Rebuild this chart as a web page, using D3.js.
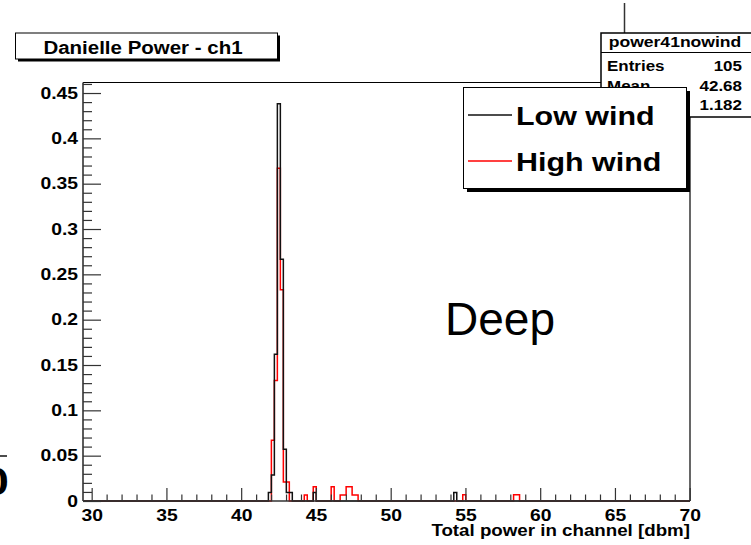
<!DOCTYPE html>
<html>
<head>
<meta charset="utf-8">
<script src="https://d3js.org/d3.v7.min.js"></script>
<style>
body { margin: 0; background: #fff; }
text { font-family: "Liberation Sans", Arial, Helvetica, sans-serif; font-weight: bold; fill: #000; }
</style>
</head>
<body>
<div id="chart"></div>
<script>
// histogram binning (ROOT TH1, 0.2 dbm bins)
var binStart = 29.42
var binWidth = 0.2
var binCount = 203

// non-empty bins: lower edge and normalised height
var lowWindBins = [41.82, 42.02, 42.22, 42.42, 42.62, 42.82, 43.02, 43.22, 44.82, 54.22]
var lowWindValues = [0.0095, 0.0286, 0.1619, 0.4381, 0.2667, 0.0571, 0.0095, 0.0095, 0.0095, 0.0095]

var highWindBins = [42.02, 42.22, 42.42, 42.62, 42.82, 43.02, 44.22, 44.82, 46.02, 46.62, 46.82, 47.02, 47.22, 47.42, 47.62, 54.82, 58.22, 58.42]
var highWindValues = [0.067, 0.133, 0.367, 0.233, 0.021, 0.021, 0.0066, 0.0158, 0.0158, 0.0066, 0.0066, 0.0158, 0.0158, 0.0066, 0.0066, 0.007, 0.007, 0.007]

var xMajorTicks = [30, 35, 40, 45, 50, 55, 60, 65, 70]
var yMajorTicks = [0, 0.05, 0.1, 0.15, 0.2, 0.25, 0.3, 0.35, 0.4, 0.45]
var legendLabels = ["Low wind", "High wind"]
var legendColors = ["#111", "#ff0000"]
var statsLabels = ["Entries", "Mean", "RMS"]
var statsValues = ["105", "42.68", "1.182"]

var width = 751
var height = 545
var plotLeft = 83, plotRight = 690, plotTop = 82.5, plotBottom = 501
var stretch = 1.17   // the original picture is stretched sideways

var svg = d3.select("#chart").append("svg")
    .attr("width", width)
    .attr("height", height)
    .style("display", "block")

var x = d3.scaleLinear()
    .domain([binStart, binStart + binCount * binWidth])
    .range([plotLeft, plotRight])
var y = d3.scaleLinear()
    .domain([0, 0.4616])
    .range([plotBottom, plotTop])

function fullHist(edges, values) {
    var counts = d3.range(binCount).map(function () { return 0 })
    edges.forEach(function (e, i) {
        counts[Math.round((e - binStart) / binWidth)] = values[i]
    })
    var pts = counts.map(function (v, k) { return [binStart + k * binWidth, v] })
    pts.push([binStart + binCount * binWidth, counts[binCount - 1]])
    return pts
}

var stepLine = d3.line()
    .x(function (d) { return x(d[0]) })
    .y(function (d) { return y(d[1]) })
    .curve(d3.curveStepAfter)

// histograms, red under black
svg.append("path")
    .attr("d", stepLine(fullHist(highWindBins, highWindValues)))
    .attr("fill", "none")
    .attr("stroke", "#ff0000")
    .attr("stroke-width", 1.5)
svg.append("path")
    .attr("d", stepLine(fullHist(lowWindBins, lowWindValues)))
    .attr("fill", "none")
    .attr("stroke", "#111")
    .attr("stroke-width", 1.5)

// frame
svg.append("line").attr("x1", plotLeft).attr("x2", plotRight).attr("y1", plotTop).attr("y2", plotTop)
    .attr("stroke", "#000").attr("stroke-width", 1.2)
svg.append("line").attr("x1", plotRight).attr("x2", plotRight).attr("y1", plotTop).attr("y2", plotBottom)
    .attr("stroke", "#000").attr("stroke-width", 1.2)

// axes (ticks inside the frame)
var xMinor = d3.range(30, 71).filter(function (v) { return v % 5 != 0 })
var yMinor = d3.range(0, 47).filter(function (v) { return v % 5 != 0 }).map(function (v) { return v / 100 })

svg.append("g")
    .attr("transform", "translate(0," + plotBottom + ")")
    .call(d3.axisBottom(x).tickValues(xMinor).tickSize(-6.5).tickFormat(""))
svg.append("g")
    .attr("class", "xmajor")
    .attr("transform", "translate(0," + plotBottom + ")")
    .call(d3.axisBottom(x).tickValues(xMajorTicks).tickSize(-13).tickPadding(8).tickFormat(function (d) { return String(d) }))
svg.append("g")
    .attr("transform", "translate(" + plotLeft + ",0)")
    .call(d3.axisLeft(y).tickValues(yMinor).tickSize(-9).tickFormat(""))
svg.append("g")
    .attr("class", "ymajor")
    .attr("transform", "translate(" + plotLeft + ",0)")
    .call(d3.axisLeft(y).tickValues(yMajorTicks).tickSize(-18).tickPadding(5).tickFormat(function (d) { return String(d) }))

svg.selectAll(".domain").remove()
svg.selectAll(".tick line").attr("stroke", "#333").attr("stroke-width", 1.2)
svg.selectAll(".xmajor text, .ymajor text")
    .attr("font-size", "16.5px")
    .attr("font-family", null)
    .attr("fill", "#000")

svg.append("line").attr("x1", plotLeft).attr("x2", plotLeft).attr("y1", plotTop).attr("y2", plotBottom)
    .attr("stroke", "#333").attr("stroke-width", 1.6)
svg.append("line").attr("x1", plotLeft).attr("x2", plotRight).attr("y1", plotBottom).attr("y2", plotBottom)
    .attr("stroke", "#333").attr("stroke-width", 1.6)

svg.append("text")
    .attr("x", plotRight)
    .attr("y", 536)
    .attr("text-anchor", "end")
    .attr("font-size", "16px")
    .text("Total power in channel [dbm]")

// title box
svg.append("rect").attr("x", 18).attr("y", 35.5).attr("width", 262).attr("height", 26).attr("fill", "#000")
svg.append("rect").attr("x", 15.5).attr("y", 33).attr("width", 262).attr("height", 26)
    .attr("fill", "#fff").attr("stroke", "#000").attr("stroke-width", 1)
svg.append("text")
    .attr("x", 143)
    .attr("y", 53.5)
    .attr("text-anchor", "middle")
    .attr("font-size", "17.5px")
    .text("Danielle Power - ch1")

// stats box (cut by the right edge)
svg.append("line").attr("x1", 624.5).attr("x2", 624.5).attr("y1", 3).attr("y2", 33)
    .attr("stroke", "#333").attr("stroke-width", 1.5)
svg.append("rect").attr("x", 601).attr("y", 33).attr("width", 170).attr("height", 84)
    .attr("fill", "#fff").attr("stroke", "#000").attr("stroke-width", 1.5)
svg.append("line").attr("x1", 601).attr("x2", 751).attr("y1", 52.5).attr("y2", 52.5)
    .attr("stroke", "#000").attr("stroke-width", 1)
svg.append("text")
    .attr("x", 675)
    .attr("y", 47)
    .attr("text-anchor", "middle")
    .attr("font-size", "15px")
    .text("power41nowind")
statsLabels.forEach(function (s, i) {
    svg.append("text")
        .attr("x", 607)
        .attr("y", 71 + i * 19.7)
        .attr("font-size", "14.5px")
        .text(s)
    svg.append("text")
        .attr("x", 742)
        .attr("y", 71 + i * 19.7)
        .attr("text-anchor", "end")
        .attr("font-size", "14.5px")
        .text(statsValues[i])
})

// legend
svg.append("rect").attr("x", 467).attr("y", 91).attr("width", 223).attr("height", 101).attr("fill", "#000")
svg.append("rect").attr("x", 463.5).attr("y", 87.5).attr("width", 223).attr("height", 101)
    .attr("fill", "#fff").attr("stroke", "#000").attr("stroke-width", 1)
legendLabels.forEach(function (s, i) {
    var ly = 115 + i * 46
    svg.append("line")
        .attr("x1", 468).attr("x2", 512)
        .attr("y1", ly).attr("y2", ly)
        .attr("stroke", legendColors[i])
        .attr("stroke-width", 1.3)
    svg.append("text")
        .attr("x", 516)
        .attr("y", ly + 10)
        .attr("font-size", "26px")
        .text(s)
})

// fragment of the neighbouring plot at the left edge
svg.append("line").attr("x1", 0).attr("x2", 7).attr("y1", 456).attr("y2", 456)
    .attr("stroke", "#111").attr("stroke-width", 1.5)
svg.append("text")
    .attr("x", 9)
    .attr("y", 495)
    .attr("text-anchor", "end")
    .attr("font-size", "39px")
    .text("0")

// widen the ROOT texts like the stretched picture
svg.selectAll("text").each(function () {
    var w = this.getComputedTextLength()
    d3.select(this).attr("textLength", w * stretch).attr("lengthAdjust", "spacingAndGlyphs")
})

// overlay label, not stretched
svg.append("text")
    .attr("x", 445)
    .attr("y", 335)
    .attr("font-size", "46px")
    .style("font-weight", "normal")
    .text("Deep")
</script>
</body>
</html>
